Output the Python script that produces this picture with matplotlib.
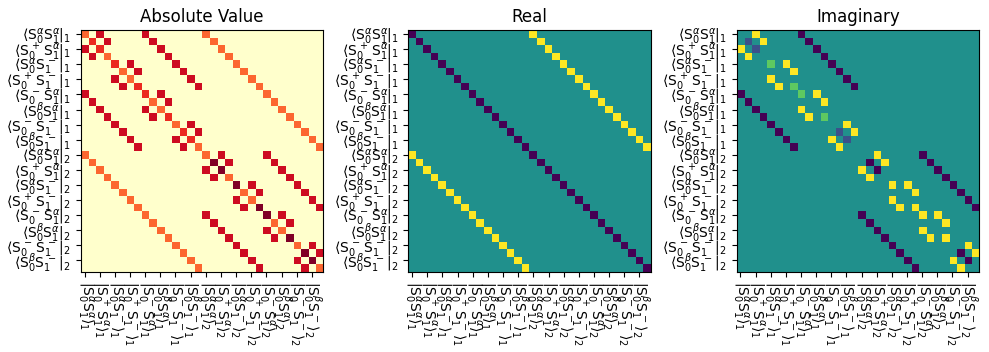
import numpy as np
import matplotlib
matplotlib.use("Agg")
import matplotlib.pyplot as plt

titles = ["Absolute Value", "Real", "Imaginary"]
P = r"S^{\hspace{0.13}+\hspace{0.13}}"
M = r"S^{\hspace{0.13}-\hspace{0.13}}"
operators = [r"S^\alpha_0S^\alpha_1", P + r"_0S^\alpha_1", r"S^\alpha_0" + M + "_1", P + "_0" + M + "_1",
             M + r"_0S^\alpha_1", r"S^\beta_0S^\alpha_1", M + "_0" + M + "_1", r"S^\beta_0" + M + "_1"]
sites = [1, 2]

size = 32
real_amp = 0.5
imag_amp = 0.7071
imag_half = 0.3536

# per row: columns holding each imaginary value
imag_plus = [[2], [3], [0], [1], [6], [7], [4], [5],
             [10], [11], [8], [9], [14], [15], [12], [13],
             [18], [19], [16], [17], [20, 22], [23], [20], [21, 23],
             [24, 26], [27], [24], [25, 27], [30], [31], [28], [29]]
imag_minus = [[8], [9], [10], [11], [12], [13], [14], [15],
              [0], [1], [2], [3], [4], [5], [6], [7],
              [24], [17, 25], [18, 26], [27], [28], [29], [30], [31],
              [16], [17], [18], [19], [20], [21, 29], [22, 30], [23]]
imag_half_plus = [4, 7, 8, 11]
imag_half_minus = [1, 2, 13, 14]
real_offset = 16

real = np.zeros((size, size))
imag = np.zeros((size, size))
for r in range(size):
    real[r, r] = -real_amp
    real[r, (r + real_offset) % size] = real_amp
    imag[r, imag_plus[r]] = imag_amp
    imag[r, imag_minus[r]] = -imag_amp
for d in imag_half_plus:
    imag[d, d] = imag_half
for d in imag_half_minus:
    imag[d, d] = -imag_half
absolute = np.hypot(real, imag)


def roman(op):
    return op.replace("S", chr(92) + "mathrm{S}")


ylabels = [rf"$\langle {roman(op)}|_{s}$" for s in sites for op in operators]
xlabels = [rf"$|{roman(op)}\rangle_{s}$" for s in sites for op in operators]

W, H = 989, 352
fig = plt.figure(figsize=(W / 100, H / 100), dpi=100)
lefts = [80.8, 408.4, 736.6]
panels = [(absolute, "YlOrRd"), (real, "viridis"), (imag, "viridis")]
for left, (mat, cmap), title in zip(lefts, panels, titles):
    ax = fig.add_axes([left / W, 1 - 271.7 / H, 242.4 / W, 241.4 / H])
    ax.imshow(mat, cmap=cmap, aspect="auto", interpolation="nearest")
    ax.set_xticks(np.arange(0, size, 2))
    ax.set_yticks(np.arange(0, size, 2))
    ax.set_xticklabels(xlabels, rotation=-90)
    ax.set_yticklabels(ylabels)
    ax.set_title(title, fontsize=12)

fig.savefig("out.png", dpi=100)
